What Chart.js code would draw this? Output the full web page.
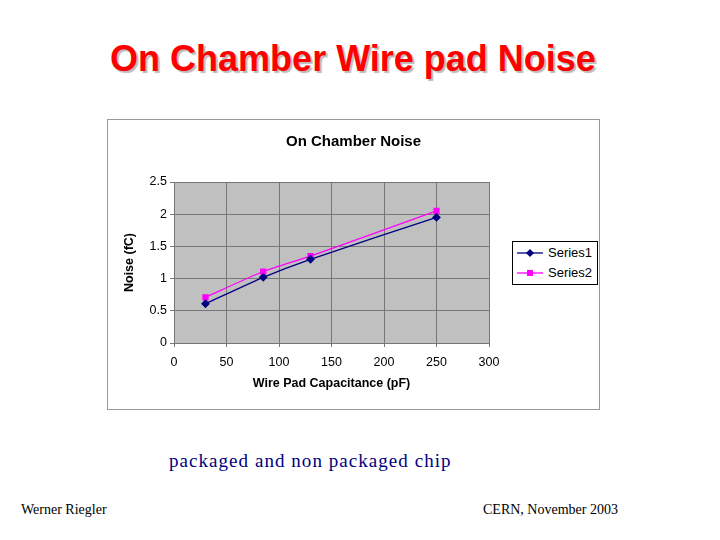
<!DOCTYPE html><html><head><script src="https://cdn.jsdelivr.net/npm/chart.js"></script>
<style>body{margin:0;width:720px;height:540px;background:#fff;position:relative;overflow:hidden}
#t{position:absolute;top:38px;left:0;width:706px;text-align:center;font:bold 36px "Liberation Sans",Arial;color:#ff0000;text-shadow:2px 2px 1px #bbb}
#box{position:absolute;left:107px;top:119px;width:491px;height:289px;border:1px solid #999;background:#fff}
#ct{position:absolute;left:0;top:12px;width:491px;text-align:center;font:bold 15px "Liberation Sans",Arial}
#lg{position:absolute;left:404px;top:121px;width:84px;height:42px;border:1px solid #000;font:13px "Liberation Sans",Arial;background:#fff}
.r{position:absolute;left:35px;}
.f{position:absolute;font:14px "Liberation Serif","Times New Roman";}
</style></head><body>
<div id="t">On Chamber Wire pad Noise</div>
<div id="box"><canvas id="c" width="491" height="289"></canvas><div id="ct">On Chamber Noise</div>
<div id="lg"><svg width="34" height="42" style="position:absolute;left:0;top:0"><line x1="4" y1="11" x2="30" y2="11" stroke="#000080" stroke-width="1.3"/><path d="M17 7L21 11L17 15L13 11Z" fill="#000080"/><line x1="4" y1="31" x2="30" y2="31" stroke="#ff00ff" stroke-width="1.3"/><rect x="14" y="28" width="6" height="6" fill="#ff00ff"/></svg><span class="r" style="top:3px">Series1</span><span class="r" style="top:23px">Series2</span></div></div>
<div class="f" style="left:169px;top:450px;font-size:19px;color:#000080;letter-spacing:1.05px">packaged and non packaged chip</div>
<div class="f" style="left:21px;top:502px">Werner Riegler</div>
<div class="f" style="left:483px;top:502px">CERN, November 2003</div>
<script>
const xs=[30,85,130,250];
const series1=[0.61,1.02,1.30,1.95];
const series2=[0.71,1.11,1.35,2.05];
const F='"Liberation Sans",Arial';
new Chart(document.getElementById('c'),{type:'scatter',data:{datasets:[
{label:'Series1',data:xs.map((x,i)=>({x,y:series1[i]})),showLine:true,borderColor:'#000080',backgroundColor:'#000080',pointStyle:'rectRot',pointRadius:3.5,borderWidth:1.3,tension:0.2},
{label:'Series2',data:xs.map((x,i)=>({x,y:series2[i]})),showLine:true,borderColor:'#ff00ff',backgroundColor:'#ff00ff',pointStyle:'rect',pointRadius:3.5,borderWidth:1.3,tension:0.2}]},
options:{responsive:false,animation:false,layout:{padding:{left:14,right:110,top:62,bottom:14}},
plugins:{legend:{display:false}},
scales:{x:{type:'linear',min:0,max:300,afterFit(s){s.height=52},ticks:{stepSize:50,padding:8,color:'#000',font:{family:F,size:12.5}},grid:{color:'#777',tickLength:4},border:{color:'#777'},title:{display:true,text:'Wire Pad Capacitance (pF)',color:'#000',padding:{top:6},font:{family:F,size:12.5,weight:'bold'}}},
y:{min:0,max:2.5,afterFit(s){s.width=52},ticks:{stepSize:0.5,color:'#000',font:{family:F,size:12.5},callback:v=>String(v)},grid:{color:'#777',tickLength:4},border:{color:'#777'},title:{display:true,text:'Noise (fC)',color:'#000',padding:{top:0,bottom:4},font:{family:F,size:12.5,weight:'bold'}}}}},
plugins:[{id:'bg',beforeDraw(c){const a=c.chartArea,x=c.ctx;x.fillStyle='#c0c0c0';x.fillRect(a.left,a.top,a.width,a.height);}}]});
</script></body></html>
